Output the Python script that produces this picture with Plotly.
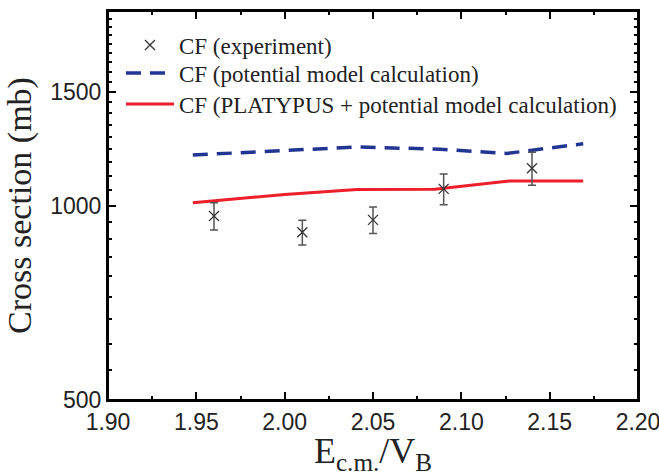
import numpy as np
import plotly.graph_objects as go

# Experimental complete fusion data
exp_x = [1.96, 2.01, 2.05, 2.09, 2.14]
exp_y = [963, 909, 950, 1061, 1142]
exp_err = [47, 40, 45, 58, 67]

# Potential model calculation (dashed blue)
pot_x = [1.948, 2.02, 2.041, 2.088, 2.126, 2.169]
pot_y = [1197, 1226, 1232, 1222, 1204, 1246]

# PLATYPUS + potential model calculation (solid red)
plat_x = [1.948, 2.00, 2.041, 2.085, 2.127, 2.169]
plat_y = [1010, 1040, 1059, 1060, 1091, 1091]

y_ticks = [500, 1000, 1500, 2000]

minor_y = []
for a in y_ticks[:-1]:
    for k in range(1, 9):
        minor_y.append(a + k * 500 / 9)

fig = go.Figure()

fig.add_trace(go.Scatter(
    x=pot_x, y=pot_y, mode="lines",
    name="CF (potential model calculation)",
    line=dict(color="#233592", width=3.5, dash="15px,9px"),
    legend="legend2",
))
fig.add_trace(go.Scatter(
    x=plat_x, y=plat_y, mode="lines",
    name="CF (PLATYPUS + potential model calculation)",
    line=dict(color="#ee1f2b", width=3),
    legend="legend3",
))
fig.add_trace(go.Scatter(
    x=exp_x, y=exp_y, mode="markers",
    name="CF (experiment)",
    marker=dict(symbol="x-thin", size=10, line=dict(width=1.3, color="#333333"), color="#333333"),
    error_y=dict(type="data", array=exp_err, visible=True, color="#555555", thickness=1.5, width=4),
    legend="legend",
))

fig.update_xaxes(
    range=[1.90, 2.20], tick0=1.90, dtick=0.05, tickformat=".2f",
    showline=True, linecolor="black", linewidth=2, mirror="ticks",
    ticks="inside", ticklen=8, tickwidth=2, tickcolor="black",
    showgrid=False, zeroline=False, automargin=False,
    tickfont=dict(family="Liberation Sans, Arial", size=23, color="#222222"),
    ticklabeloverflow="allow",
    minor=dict(dtick=0.025, ticks="inside", ticklen=4, tickwidth=1.5, tickcolor="black", showgrid=False),
    title=dict(text="E<sub>c.m.</sub>/V<sub>B</sub>",
               font=dict(family="Liberation Serif, Times New Roman", size=36, color="#222222"), standoff=12),
)
fig.update_yaxes(
    type="log", range=[np.log10(500), np.log10(2000)],
    tickvals=y_ticks, ticktext=[str(v) for v in y_ticks],
    showline=True, linecolor="black", linewidth=2, mirror="ticks",
    ticks="inside", ticklen=8, tickwidth=2, tickcolor="black",
    showgrid=False, zeroline=False, automargin=False,
    tickfont=dict(family="Liberation Sans, Arial", size=23, color="#222222"),
    minor=dict(tickmode="array", tickvals=minor_y, ticks="inside", ticklen=4, tickwidth=1.5,
               tickcolor="black", showgrid=False),
    title=dict(text="Cross section (mb)",
               font=dict(family="Liberation Serif, Times New Roman", size=34, color="#222222"), standoff=8),
)

leg_font = dict(family="Liberation Serif, Times New Roman", size=23, color="#222222")
leg_common = dict(x=0.0245, xanchor="left", yanchor="middle", bgcolor="rgba(0,0,0,0)",
                  font=leg_font, itemwidth=48)

fig.update_layout(
    template="none",
    width=659, height=476, autosize=False,
    margin=dict(l=108, r=21, t=11, b=76),
    plot_bgcolor="rgba(0,0,0,0)", paper_bgcolor="white",
    legend=dict(y=0.9126, **leg_common),
    legend2=dict(y=0.8406, **leg_common),
    legend3=dict(y=0.761, **leg_common),
    showlegend=True,
    shapes=[dict(type="rect", xref="paper", yref="paper", x0=0, x1=1, y0=0, y1=1,
                 line=dict(color="black", width=2), fillcolor="rgba(0,0,0,0)", layer="above")],
)

fig.write_html("out.html")
